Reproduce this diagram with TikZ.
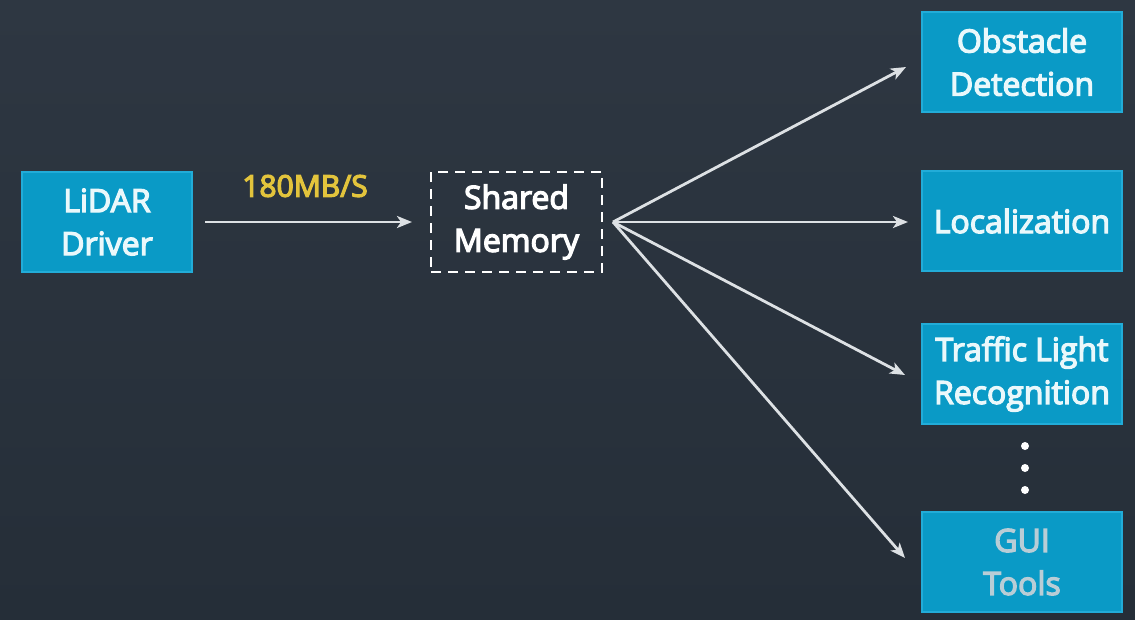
\documentclass[tikz,border=0pt]{standalone}
\usepackage{fontspec}
\setmainfont{Open Sans}
\newfontfamily\semi{Open Sans}[FakeBold=4]
\usetikzlibrary{arrows.meta}
\definecolor{bgtop}{HTML}{2E3742}
\definecolor{bgbot}{HTML}{252E38}
\definecolor{boxfill}{HTML}{0A9AC6}
\definecolor{boxedge}{HTML}{22ACD8}
\definecolor{arrowcol}{HTML}{DDE1E4}
\definecolor{ratecol}{HTML}{E3C43C}
\definecolor{labeltext}{HTML}{EAF8FB}
\definecolor{dimtext}{HTML}{B9CDD6}
\tikzset{
  x=1pt, y=-1pt,
  bluebox/.style={draw=boxedge, line width=1.2pt, fill=boxfill, text=labeltext,
    minimum width=200pt, minimum height=100pt, align=center, inner sep=0pt,
    font=\semi\fontsize{32}{43}\selectfont},
  membox/.style={draw=white, line width=2pt, dash pattern=on 10pt off 7pt,
    minimum width=171pt, minimum height=100pt, align=center, inner sep=0pt,
    text=white, font=\semi\fontsize{32}{43}\selectfont},
  flow/.style={draw=arrowcol, line width=2.8pt,
    -{Stealth[length=15pt,width=12pt,inset=4pt]}},
  dot/.style={circle, fill=white, inner sep=0pt, minimum size=8pt}
}
\begin{document}
\begin{tikzpicture}
\shade[top color=bgtop, bottom color=bgbot] (0,0) rectangle (1135,619);
\useasboundingbox (0,0) rectangle (1135,619);
\node[bluebox, minimum width=170pt] (lidar) at (107,222) {LiDAR\\Driver};
\node[membox] (mem) at (516.5,222) {Shared\\Memory};
\node[bluebox] (obst) at (1022,62) {Obstacle\\Detection};
\node[bluebox] (loc) at (1022,221) {Localization};
\node[bluebox] (tlr) at (1022,374) {Traffic Light\\Recognition};
\node[bluebox, text=dimtext] (gui) at (1022,562) {GUI\\Tools};
\node[dot] (d1) at (1025,446) {};
\node[dot] (d2) at (1025,468) {};
\node[dot] (d3) at (1025,490) {};
\coordinate (fan) at (613,222);
\coordinate (lidarout) at (205,222);
\coordinate (memin) at (412,222);
\node[text=ratecol, font=\semi\fontsize{30}{30}\selectfont, inner sep=0pt] (rate) at (305,186) {180MB/S};
\draw[flow] (lidarout) -- (memin);
\draw[flow] (fan) -- (906,67);
\draw[flow] (fan) -- (908,222);
\draw[flow] (fan) -- (905,375);
\draw[flow] (fan) -- (905,558);
\end{tikzpicture}
\end{document}
